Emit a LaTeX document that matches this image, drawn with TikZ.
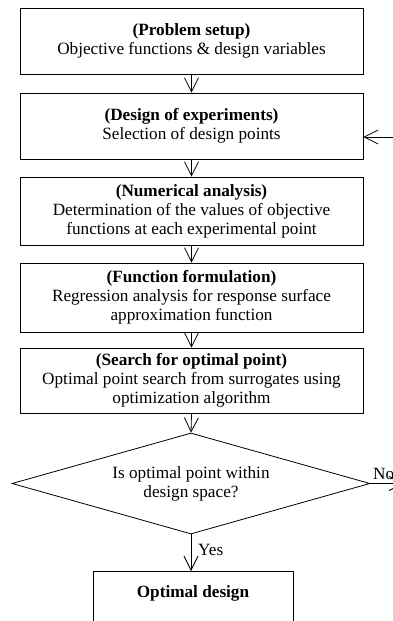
\documentclass[tikz,border=0pt]{standalone}
\usepackage{fontspec}
\setmainfont{Liberation Serif}
\usetikzlibrary{arrows.meta,shapes.geometric}
\begin{document}
\begin{tikzpicture}[x=1pt,y=-1pt,
  txt/.style={font=\fontsize{17.2}{19}\selectfont},
  box/.style={txt, draw, line width=0.8pt, minimum width=343pt, align=center, inner sep=0pt},
  arr/.style={draw, line width=0.8pt, -{Straight Barb[length=14pt,width=14pt]}},
  lbl/.style={txt, inner sep=1pt}]
\clip (0,0) rectangle (393,621);
\fill[white] (0,0) rectangle (393,621);
\node[box, minimum height=66pt] (b1) at (191.5,41) {\textbf{(Problem setup)}\\Objective functions \& design variables};
\node[box, minimum height=66pt] (b2) at (191.5,126) {\textbf{(Design of experiments)}\\Selection of design points};
\node[box, minimum height=68pt] (b3) at (191.5,211) {\textbf{(Numerical analysis)}\\Determination of the values of objective\\functions at each experimental point};
\node[box, minimum height=69pt] (b4) at (191.5,297.5) {\textbf{(Function formulation)}\\Regression analysis for response surface\\approximation function};
\node[box, minimum height=65pt] (b5) at (191.5,380.5) {\textbf{(Search for optimal point)}\\Optimal point search from surrogates using\\optimization algorithm};
\node[txt, diamond, draw, line width=0.8pt, aspect=3.5, minimum width=358pt, minimum height=101pt, inner sep=0pt, align=center] (d) at (191,483.5) {Is optimal point within\\design space?};
\node[txt, draw, line width=0.8pt, anchor=north, minimum width=200pt, inner sep=0pt, text height=26pt, text depth=80pt] (opt) at (193,571) {\textbf{Optimal design}};
\coordinate (fb) at (393,137);
\coordinate (noend) at (404,483.5);
\draw[arr] (b1.south) -- (b2.north);
\draw[arr] (b2.south) -- (b3.north);
\draw[arr] (b3.south) -- (b4.north);
\draw[arr] (b4.south) -- (b5.north);
\draw[arr] (b5.south) -- (d.north);
\draw[arr] (fb) -- (fb -| b2.east);
\draw[arr] (d.south) -- (d.south |- opt.north);
\draw[arr] (d.east) -- (noend);
\node[lbl, anchor=west] (yes) at (197,550) {Yes};
\node[lbl, anchor=south west] (no) at (372,481) {No};
\end{tikzpicture}
\end{document}
